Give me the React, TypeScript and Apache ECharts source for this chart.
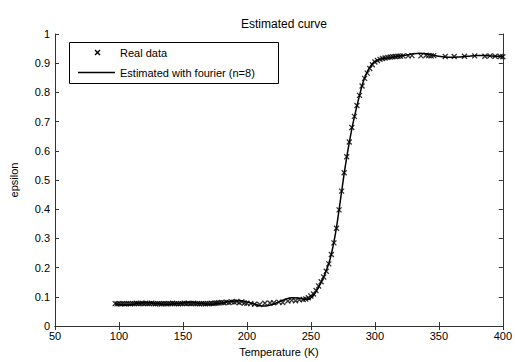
import React, { useEffect, useRef } from "react";
import * as echarts from "echarts";

const xTicks = [50, 100, 150, 200, 250, 300, 350, 400];
const yTicks = [0, 0.1, 0.2, 0.3, 0.4, 0.5, 0.6, 0.7, 0.8, 0.9, 1];

const realT = [
  97, 98.5, 100, 101.5, 103, 104.5, 106, 107.5, 109, 110.5, 112, 113.5, 115, 116.5, 118, 119.5, 121, 122.5, 124, 125.5,
  127, 128.5, 130, 131.5, 133, 134.5, 136, 137.5, 139, 140.5, 142, 143.5, 145, 146.5, 148, 149.5, 151, 152.5, 154, 155.5,
  157, 158.5, 160, 161.5, 163, 164.5, 166, 167.5, 169, 170.5, 172, 173.5, 175, 176.5, 178, 180, 182, 184, 186, 188,
  190, 192, 194, 196, 198, 200, 203, 206, 210, 214, 218, 221, 225, 228, 232, 235, 238, 241, 244, 246,
  248, 250, 252, 254, 256, 258, 260, 262, 264, 266, 268, 270, 272, 274, 276, 278, 280, 282, 284, 286,
  288, 290, 292, 294, 296, 298, 300, 302, 304, 306, 308, 310, 312, 314, 316, 318, 320, 322, 326, 329,
  336, 340, 342, 344, 346, 355, 362, 370, 378, 386, 390, 394, 398, 400,
];
const realEps = [
  0.077, 0.076, 0.077, 0.076, 0.077, 0.076, 0.077, 0.077, 0.076, 0.077, 0.077, 0.078, 0.077, 0.077, 0.078, 0.077, 0.078, 0.077, 0.077, 0.078,
  0.077, 0.076, 0.077, 0.077, 0.076, 0.077, 0.077, 0.076, 0.077, 0.077, 0.078, 0.077, 0.077, 0.076, 0.077, 0.077, 0.078, 0.077, 0.078, 0.077,
  0.077, 0.078, 0.077, 0.077, 0.076, 0.077, 0.077, 0.076, 0.077, 0.077, 0.078, 0.077, 0.078, 0.079, 0.08, 0.081, 0.08, 0.082, 0.081, 0.083,
  0.082, 0.084, 0.08, 0.083, 0.079, 0.078, 0.077, 0.075, 0.074, 0.078, 0.079, 0.08, 0.082, 0.081, 0.086, 0.088, 0.087, 0.09, 0.091, 0.093,
  0.097, 0.103, 0.11, 0.122, 0.137, 0.152, 0.168, 0.188, 0.213, 0.245, 0.285, 0.335, 0.398, 0.462, 0.525, 0.58, 0.63, 0.68, 0.718, 0.755,
  0.79, 0.822, 0.848, 0.866, 0.882, 0.895, 0.904, 0.909, 0.913, 0.916, 0.918, 0.92, 0.921, 0.922, 0.923, 0.924, 0.924, 0.925, 0.925, 0.926,
  0.925, 0.927, 0.926, 0.925, 0.926, 0.923, 0.923, 0.924, 0.925, 0.924, 0.925, 0.924, 0.923, 0.922,
];

const fitT = [
  97, 100, 105, 110, 115, 120, 125, 130, 135, 140, 145, 150, 155, 160, 165, 170, 175, 180, 185, 190,
  195, 200, 205, 210, 215, 220, 225, 230, 235, 240, 245, 248, 250, 252, 254, 256, 258, 260, 262, 264,
  266, 268, 270, 272, 274, 276, 278, 280, 282, 284, 286, 288, 290, 292, 294, 296, 298, 300, 304, 308,
  312, 316, 320, 325, 330, 335, 340, 345, 350, 355, 360, 365, 370, 375, 380, 385, 390, 395, 400,
];
const fitEps = [
  0.077, 0.074, 0.072, 0.074, 0.078, 0.08, 0.079, 0.077, 0.075, 0.075, 0.077, 0.079, 0.081, 0.08, 0.077, 0.075, 0.076, 0.079, 0.083, 0.086,
  0.087, 0.083, 0.076, 0.07, 0.069, 0.074, 0.083, 0.092, 0.097, 0.096, 0.092, 0.092, 0.097, 0.105, 0.118, 0.133, 0.15, 0.168, 0.19, 0.215,
  0.247, 0.288, 0.338, 0.398, 0.46, 0.522, 0.578, 0.628, 0.675, 0.716, 0.754, 0.79, 0.823, 0.85, 0.87, 0.886, 0.898, 0.906, 0.914, 0.917,
  0.919, 0.922, 0.925, 0.928, 0.932, 0.934, 0.932, 0.928, 0.924, 0.921, 0.92, 0.921, 0.923, 0.925, 0.926, 0.926, 0.925, 0.924, 0.924,
];

const titleText = "Estimated curve";
const xName = "Temperature (K)";
const yName = "epsilon";
const legendNames = ["Real data", "Estimated with fourier (n=8)"];

const FONT = "'Liberation Sans', Arial, sans-serif";
const AX = "#333";

export default function App() {
  const ref = useRef<HTMLDivElement>(null);
  useEffect(() => {
    if (!ref.current) return;
    const chart = echarts.init(ref.current, null, { renderer: "svg" });
    const realData = realT.map((t, i) => [t, realEps[i]]);
    const fitData = fitT.map((t, i) => [t, fitEps[i]]);
    const axisCommon = {
      axisLine: { show: true, lineStyle: { color: AX, width: 1 } },
      axisTick: { show: true, inside: true, length: 4, lineStyle: { color: AX } },
      splitLine: { show: false },
    };
    chart.setOption({
      animation: false,
      backgroundColor: "#fff",
      textStyle: { fontFamily: FONT },
      title: {
        text: titleText,
        left: 279,
        top: 13,
        textAlign: "center",
        textStyle: { fontFamily: FONT, fontSize: 12, fontWeight: "normal", color: "#000" },
      },
      grid: { left: 53, right: 10, top: 34, bottom: 32 },
      xAxis: [
        {
          type: "value",
          min: xTicks[0],
          max: xTicks[xTicks.length - 1],
          interval: 50,
          position: "bottom",
          ...axisCommon,
          axisLabel: { color: "#000", fontSize: 11, fontFamily: FONT, margin: 4 },
          name: xName,
          nameLocation: "middle",
          nameGap: 17,
          nameTextStyle: { color: "#000", fontSize: 11, fontFamily: FONT },
        },
        {
          type: "value",
          min: xTicks[0],
          max: xTicks[xTicks.length - 1],
          interval: 50,
          position: "top",
          ...axisCommon,
          axisLabel: { show: false },
        },
      ],
      yAxis: [
        {
          type: "value",
          min: yTicks[0],
          max: yTicks[yTicks.length - 1],
          interval: 0.1,
          position: "left",
          ...axisCommon,
          axisLabel: { color: "#000", fontSize: 11, fontFamily: FONT, margin: 5 },
          name: yName,
          nameLocation: "middle",
          nameGap: 36,
          nameTextStyle: { color: "#000", fontSize: 11, fontFamily: FONT },
        },
        {
          type: "value",
          min: yTicks[0],
          max: yTicks[yTicks.length - 1],
          interval: 0.1,
          position: "right",
          ...axisCommon,
          axisLabel: { show: false },
        },
      ],
      series: [
        {
          name: legendNames[1],
          type: "line",
          data: fitData,
          showSymbol: false,
          smooth: 0.3,
          lineStyle: { color: "#000", width: 1.5 },
          z: 2,
        },
        {
          name: legendNames[0],
          type: "scatter",
          data: realData,
          symbol: "path://M0,0L10,10M10,0L0,10",
          symbolSize: 5,
          itemStyle: { color: "#000", borderColor: "#000", borderWidth: 1.3 },
          z: 3,
        },
      ],
      graphic: [
        {
          type: "rect",
          shape: { x: 69.5, y: 42.5, width: 209, height: 41 },
          style: { fill: "#fff", stroke: "#000", lineWidth: 1 },
          z: 10,
        },
        {
          type: "line",
          shape: { x1: 95, y1: 50, x2: 100, y2: 55 },
          style: { stroke: "#000", lineWidth: 1.5 },
          z: 11,
        },
        {
          type: "line",
          shape: { x1: 100, y1: 50, x2: 95, y2: 55 },
          style: { stroke: "#000", lineWidth: 1.5 },
          z: 11,
        },
        {
          type: "line",
          shape: { x1: 78, y1: 72.5, x2: 115, y2: 72.5 },
          style: { stroke: "#000", lineWidth: 1.5 },
          z: 11,
        },
        {
          type: "text",
          x: 120,
          y: 52.5,
          style: { text: legendNames[0], font: `11px ${FONT}`, fill: "#000", textVerticalAlign: "middle" },
          z: 11,
        },
        {
          type: "text",
          x: 120,
          y: 72.5,
          style: { text: legendNames[1], font: `11px ${FONT}`, fill: "#000", textVerticalAlign: "middle" },
          z: 11,
        },
      ],
    });
    return () => chart.dispose();
  }, []);
  return (
    <div
      ref={ref}
      style={{ position: "fixed", left: 0, top: 0, width: 515, height: 362, background: "#fff" }}
    />
  );
}
